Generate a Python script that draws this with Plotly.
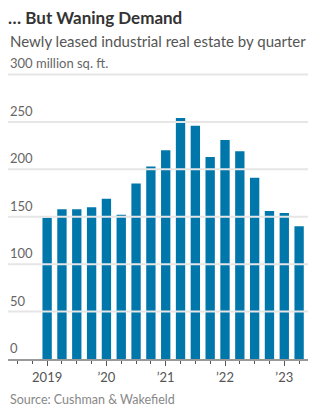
import plotly.graph_objects as go

# Newly leased industrial space, million sq. ft., 2019 Q1 – 2023 Q2
quarters = ["2019 Q1", "2019 Q2", "2019 Q3", "2019 Q4",
            "2020 Q1", "2020 Q2", "2020 Q3", "2020 Q4",
            "2021 Q1", "2021 Q2", "2021 Q3", "2021 Q4",
            "2022 Q1", "2022 Q2", "2022 Q3", "2022 Q4",
            "2023 Q1", "2023 Q2"]
leased = [149, 158, 158, 160, 169, 152, 185, 203, 220, 254,
          246, 213, 231, 219, 191, 156, 154, 140]

year_tick_labels = ["2019", "’20", "’21", "’22", "’23"]
y_tick_values = [0, 50, 100, 150, 200, 250, 300]
y_tick_labels = ["0", "50", "100", "150", "200", "250", "300 million sq. ft."]

FONT = "Lato"
BLUE = "#0077ab"
Y_MAX = 330
PLOT_H = 313

x_idx = list(range(len(quarters)))
year_idx = [i for i, q in enumerate(quarters) if q.endswith("Q1")]

fig = go.Figure()

# horizontal gridlines drawn as a line trace beneath the bars
grid_x, grid_y = [], []
for v in y_tick_values:
    if v > 0:
        grid_x += [-2.64, 17.6, None]
        grid_y += [v, v, None]
fig.add_trace(go.Scatter(
    x=grid_x, y=grid_y, mode="lines",
    line=dict(color="#e6e6e6", width=2),
    hoverinfo="skip", showlegend=False, cliponaxis=False,
))

fig.add_trace(go.Bar(
    x=x_idx, y=leased, marker=dict(color=BLUE, line=dict(width=0)),
    width=0.63, customdata=quarters,
    hovertemplate="%{customdata}: %{y}<extra></extra>",
))

# value labels sit just above their gridlines, flush with the left edge
y_labels = [
    dict(text=t, xref="paper", yref="y", x=0, xanchor="left",
         y=v, yanchor="bottom", yshift=1, showarrow=False,
         font=dict(size=13, color="#666666", family=FONT))
    for v, t in zip(y_tick_values, y_tick_labels)
]

fig.update_layout(
    width=324, height=411,
    margin=dict(l=8, r=16, t=46, b=52),
    paper_bgcolor="white", plot_bgcolor="white",
    showlegend=False,
    font=dict(family=FONT, color="#666666"),
    title=dict(
        text="<b>… But Waning Demand</b>",
        x=8 / 324, xref="container", xanchor="left",
        y=1 - 12 / 411, yref="container", yanchor="top",
        font=dict(size=17, color="#333333", family=FONT),
    ),
    annotations=[
        dict(text="Newly leased industrial real estate by quarter",
             xref="paper", yref="paper", x=0, xanchor="left",
             y=1 + 16 / PLOT_H, yanchor="top", showarrow=False,
             font=dict(size=15, color="#555555", family=FONT)),
        dict(text="Source: Cushman & Wakefield",
             xref="paper", yref="paper", x=0, xanchor="left",
             y=-31 / PLOT_H, yanchor="top", showarrow=False,
             font=dict(size=12.5, color="#888888", family=FONT)),
    ] + y_labels,
)

fig.update_xaxes(
    range=[-2.64, 17.6],
    tickmode="array", tickvals=year_idx, ticktext=year_tick_labels,
    ticks="outside", ticklen=5, tickwidth=1, tickcolor="#555555",
    tickfont=dict(size=13, color="#555555"),
    showgrid=False, zeroline=False,
    showline=True, linecolor="#999999", linewidth=2,
    minor=dict(tick0=0, dtick=1, ticks="outside", ticklen=3,
               tickwidth=1, tickcolor="#555555", showgrid=False),
    fixedrange=True,
)

fig.update_yaxes(
    range=[0, Y_MAX],
    showticklabels=False, ticks="", showgrid=False,
    zeroline=False, showline=False, fixedrange=True,
)

fig.write_html("out.html")
